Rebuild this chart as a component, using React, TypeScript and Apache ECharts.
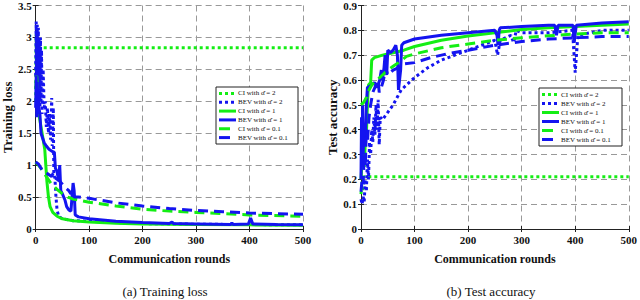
import React, { useEffect, useRef } from "react";
import * as echarts from "echarts";

type P = [number, number][];

const seriesNames = [
  "CI with α̂ = 2",
  "BEV with α̂ = 2",
  "CI with α̂ = 1",
  "BEV with α̂ = 1",
  "CI with α̂ = 0.1",
  "BEV with α̂ = 0.1",
];

// ---- Training loss ----
const lossCI2: P = [[0, 2.0], [1, 3.05], [2, 2.5], [3, 2.95], [4, 2.6], [5, 2.84], [500, 2.84]];
const lossBEV2: P = [
  [0, 2.4], [1, 3.25], [2, 2.0], [3, 3.2], [4, 1.8], [5, 3.15], [6, 2.2], [7, 3.0], [8, 1.9],
  [9, 3.0], [10, 2.0], [11, 2.8], [12, 1.8], [14, 2.5], [16, 1.9], [18, 2.0], [20, 1.6],
  [22, 1.9], [24, 1.5], [26, 1.8], [28, 1.4], [30, 2.05], [31, 1.3], [33, 1.9], [34, 0.85],
  [36, 0.8], [38, 0.5], [40, 0.3], [43, 0.2], [50, 0.16], [70, 0.13], [100, 0.12], [150, 0.1],
  [200, 0.085], [300, 0.075], [400, 0.07], [500, 0.065],
];
const lossCI1: P = [
  [0, 2.2], [2, 2.4], [4, 2.0], [6, 1.8], [10, 1.6], [14, 1.4], [17, 1.25], [19, 1.0],
  [21, 0.75], [24, 0.5], [27, 0.35], [32, 0.26], [40, 0.2], [50, 0.16], [70, 0.13],
  [100, 0.11], [150, 0.09], [200, 0.08], [300, 0.07], [400, 0.065], [500, 0.06],
];
const lossBEV1: P = [
  [0, 1.9], [1, 2.4], [2, 1.75], [3, 2.3], [4, 1.8], [5, 2.2], [6, 1.9], [8, 1.8], [10, 1.5],
  [12, 1.45], [16, 1.35], [20, 1.3], [25, 1.25], [30, 1.22], [35, 1.2], [37, 0.95], [40, 0.9],
  [43, 0.75], [45, 1.0], [47, 0.6], [50, 0.55], [55, 0.45], [58, 0.35], [62, 0.3], [66, 0.28],
  [68, 0.5], [70, 0.72], [72, 0.6], [74, 0.22], [80, 0.19], [100, 0.16], [150, 0.12],
  [200, 0.1], [250, 0.085], [255, 0.11], [258, 0.085], [300, 0.08], [365, 0.07], [367, 0.1],
  [369, 0.07], [398, 0.08], [402, 0.17], [406, 0.08], [450, 0.07], [500, 0.065],
];
const lossCI01: P = [
  [0, 1.05], [5, 1.0], [10, 0.95], [20, 0.82], [30, 0.7], [40, 0.62], [50, 0.55], [60, 0.5],
  [70, 0.47], [100, 0.42], [150, 0.36], [200, 0.31], [250, 0.28], [300, 0.26], [350, 0.24],
  [400, 0.22], [500, 0.2],
];
const lossBEV01: P = [
  [0, 1.05], [5, 1.02], [10, 0.95], [15, 0.9], [20, 0.88], [25, 0.85], [30, 0.82], [33, 0.88],
  [36, 0.8], [40, 0.78], [45, 0.75], [55, 0.65], [62, 0.6], [66, 0.55], [70, 0.62], [72, 0.5],
  [80, 0.5], [100, 0.48], [150, 0.41], [200, 0.36], [250, 0.32], [300, 0.29], [350, 0.27],
  [400, 0.25], [500, 0.23],
];

// ---- Test accuracy ----
const accCI2: P = [[0, 0.14], [2, 0.19], [3, 0.15], [5, 0.21], [500, 0.21]];
const accBEV2: P = [
  [0, 0.12], [2, 0.1], [4, 0.13], [6, 0.11], [8, 0.2], [10, 0.15], [12, 0.28], [14, 0.2],
  [16, 0.35], [18, 0.3], [20, 0.4], [22, 0.35], [24, 0.45], [26, 0.38], [28, 0.5], [30, 0.4],
  [32, 0.52], [34, 0.34], [36, 0.45], [40, 0.44], [50, 0.47], [60, 0.5], [75, 0.56],
  [100, 0.61], [125, 0.65], [150, 0.68], [175, 0.7], [200, 0.72], [225, 0.74], [250, 0.76],
  [255, 0.7], [260, 0.76], [280, 0.78], [285, 0.75], [290, 0.8], [300, 0.79], [350, 0.79],
  [395, 0.8], [400, 0.63], [405, 0.78], [450, 0.8], [500, 0.8],
];
const accCI1: P = [
  [0, 0.2], [3, 0.3], [6, 0.25], [8, 0.35], [10, 0.38], [12, 0.5], [14, 0.58], [18, 0.59],
  [20, 0.68], [25, 0.69], [40, 0.7], [60, 0.71], [80, 0.72], [100, 0.735], [150, 0.76],
  [200, 0.777], [250, 0.79], [300, 0.803], [350, 0.81], [400, 0.815], [450, 0.82], [500, 0.825],
];
const accBEV1: P = [
  [0, 0.2], [1, 0.45], [2, 0.25], [3, 0.5], [4, 0.3], [6, 0.42], [8, 0.35], [10, 0.5],
  [12, 0.57], [20, 0.58], [25, 0.59], [30, 0.57], [35, 0.6], [38, 0.64], [40, 0.6], [43, 0.65],
  [45, 0.7], [48, 0.62], [50, 0.72], [55, 0.71], [60, 0.72], [65, 0.74], [68, 0.7], [70, 0.56],
  [72, 0.6], [74, 0.64], [76, 0.74], [80, 0.75], [100, 0.765], [150, 0.78], [200, 0.79],
  [250, 0.8], [254, 0.78], [256, 0.74], [258, 0.8], [260, 0.81], [300, 0.815], [350, 0.82],
  [362, 0.82], [365, 0.78], [368, 0.82], [396, 0.82], [398, 0.75], [402, 0.82], [450, 0.83],
  [500, 0.835],
];
const accCI01: P = [
  [0, 0.5], [5, 0.51], [10, 0.53], [15, 0.56], [20, 0.58], [30, 0.6], [40, 0.62], [50, 0.64],
  [60, 0.655], [70, 0.67], [85, 0.695], [100, 0.705], [150, 0.73], [200, 0.745], [250, 0.76],
  [300, 0.77], [350, 0.778], [400, 0.785], [450, 0.79], [500, 0.79],
];
const accBEV01: P = [
  [0, 0.15], [2, 0.2], [4, 0.18], [6, 0.3], [8, 0.25], [10, 0.4], [12, 0.35], [15, 0.45],
  [18, 0.5], [22, 0.55], [28, 0.58], [32, 0.6], [34, 0.55], [38, 0.57], [42, 0.6], [46, 0.65],
  [50, 0.62], [55, 0.63], [60, 0.64], [70, 0.65], [80, 0.665], [100, 0.67], [130, 0.69],
  [160, 0.705], [200, 0.72], [250, 0.74], [300, 0.755], [350, 0.765], [400, 0.77],
  [450, 0.775], [500, 0.775],
];

const GREEN = "#14ee14";
const BLUE = "#1414f0";
const SERIF = "Liberation Serif";

const styles: { color: string; type: any; icon: number }[] = [
  { color: GREEN, type: [3, 3], icon: 15 },
  { color: BLUE, type: [3, 3], icon: 15 },
  { color: GREEN, type: "solid", icon: 17 },
  { color: BLUE, type: "solid", icon: 17 },
  { color: GREEN, type: [10, 6], icon: 11 },
  { color: BLUE, type: [10, 6], icon: 11 },
];

const lossData = [lossCI2, lossBEV2, lossCI1, lossBEV1, lossCI01, lossBEV01];
const accData = [accCI2, accBEV2, accCI1, accBEV1, accCI01, accBEV01];

export default function App() {
  const ref = useRef<HTMLDivElement>(null);
  useEffect(() => {
    document.body.style.margin = "0";
    const chart = echarts.init(ref.current!, undefined, { renderer: "svg" });

    const mkX = (g: number, top: boolean) => ({
      type: "value",
      gridIndex: g,
      min: 0,
      max: 500,
      interval: 100,
      position: top ? "top" : "bottom",
      axisLine: { show: true, lineStyle: { color: "#222", width: 1 } },
      axisTick: { show: true, inside: true, length: 3, lineStyle: { color: "#222" } },
      axisLabel: {
        show: !top,
        margin: 5,
        fontFamily: SERIF,
        fontWeight: "bold",
        fontSize: 11,
        color: "#111",
      },
      splitLine: {
        show: !top,
        lineStyle: { color: "#999", type: [6, 4], width: 1 },
      },
      name: top ? "" : "Communication rounds",
      nameLocation: "middle",
      nameGap: 24,
      nameTextStyle: { fontFamily: SERIF, fontWeight: "bold", fontSize: 12, color: "#111" },
    });
    const mkY = (g: number, right: boolean, max: number, interval: number, name: string) => ({
      type: "value",
      gridIndex: g,
      min: 0,
      max,
      interval,
      position: right ? "right" : "left",
      axisLine: { show: true, lineStyle: { color: "#222", width: 1 } },
      axisTick: { show: true, inside: true, length: 3, lineStyle: { color: "#222" } },
      axisLabel: {
        show: !right,
        margin: 4,
        fontFamily: SERIF,
        fontWeight: "bold",
        fontSize: 11,
        color: "#111",
      },
      splitLine: {
        show: !right,
        lineStyle: { color: "#999", type: [6, 4], width: 1 },
      },
      name: right ? "" : name,
      nameLocation: "middle",
      nameGap: right ? 0 : g === 0 ? 20 : 22,
      nameTextStyle: { fontFamily: SERIF, fontWeight: "bold", fontSize: 13, color: "#111" },
    });

    const mkSeries = (data: P[], g: number) =>
      data.map((d, i) => ({
        type: "line",
        name: seriesNames[i],
        xAxisIndex: g,
        yAxisIndex: g,
        data: d,
        symbol: "none",
        lineStyle: { color: styles[i].color, width: 3, type: styles[i].type },
        itemStyle: { color: styles[i].color },
        z: 2 + i,
      }));

    const mkLegend = (x0: number, y0: number, w: number, h: number) => {
      const children: any[] = [
        {
          type: "rect",
          z: 100,
          shape: { x: x0, y: y0, width: w, height: h },
          style: { fill: "#fff", stroke: "#222", lineWidth: 1 },
        },
      ];
      const step = (h - 4) / seriesNames.length;
      seriesNames.forEach((n, i) => {
        const cy = y0 + 2 + step * (i + 0.5);
        const dash = styles[i].type === "solid" || styles[i].icon === 11 ? null : styles[i].type;
        children.push({
          type: "line",
          z: 101,
          shape: { x1: x0 + 3, y1: cy, x2: x0 + 3 + styles[i].icon, y2: cy },
          style: { stroke: styles[i].color, lineWidth: 3, lineDash: dash },
        });
        children.push({
          type: "text",
          z: 101,
          x: x0 + 22,
          y: cy,
          style: {
            text: n,
            fontFamily: SERIF,
            fontSize: 7,
            fill: "#111",
            verticalAlign: "middle",
            align: "left",
          },
        });
      });
      return { type: "group", z: 100, children };
    };

    chart.setOption({
      animation: false,
      backgroundColor: "#fff",
      grid: [
        { left: 33, top: 4, width: 270, height: 225 },
        { left: 361, top: 4, width: 271, height: 225 },
      ],
      xAxis: [mkX(0, false), mkX(1, false), mkX(0, true), mkX(1, true)],
      yAxis: [
        mkY(0, false, 3.5, 0.5, "Training loss"),
        mkY(1, false, 0.9, 0.1, "Test accuracy"),
        mkY(0, true, 3.5, 0.5, ""),
        mkY(1, true, 0.9, 0.1, ""),
      ],
      series: [...mkSeries(lossData, 0), ...mkSeries(accData, 1)],
      graphic: [
        mkLegend(216, 87, 82, 57),
        mkLegend(539, 88, 83, 58),
        {
          type: "text",
          x: 165,
          y: 291,
          style: { text: "(a) Training loss", fontFamily: SERIF, fontSize: 13, fill: "#111", align: "center", verticalAlign: "middle" },
        },
        {
          type: "text",
          x: 491,
          y: 291,
          style: { text: "(b) Test accuracy", fontFamily: SERIF, fontSize: 13, fill: "#111", align: "center", verticalAlign: "middle" },
        },
      ],
    });
    return () => chart.dispose();
  }, []);
  return <div ref={ref} style={{ width: 640, height: 300 }} />;
}
